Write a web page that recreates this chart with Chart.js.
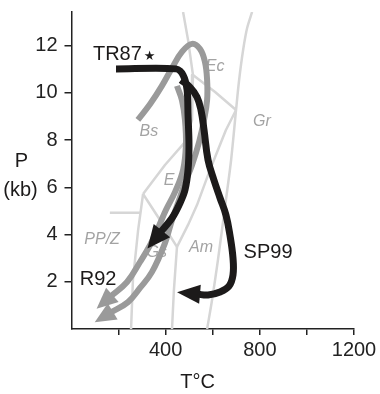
<!DOCTYPE html>
<html><head><meta charset="utf-8">
<script src="https://cdn.jsdelivr.net/npm/chart.js@4.4.0/dist/chart.umd.min.js"></script>
<style>html,body{margin:0;padding:0;background:#fff;}canvas{display:block;}</style>
</head><body>
<canvas id="c" width="380" height="394"></canvas>
<script>
// ---------- axis ticks ----------
const tTicks = [200, 400, 600, 800, 1000, 1200];
const tTickLabels = [400, 800, 1200];
const pTicks = [2, 4, 6, 8, 10, 12];

// ---------- facies boundaries (T in °C, P in kb) ----------
const grT = [767, 746, 729, 712, 699, 678, 656, 622, 597, 576];
const grP = [13.43, 12.75, 11.82, 10.55, 9.28, 7.16, 5.47, 2.92, 1.23, 0];
const bsT = [474, 495, 516, 512, 482, 397, 304];
const bsP = [13.43, 12.25, 10.76, 8.86, 7.92, 6.95, 5.72];
const ecT = [516, 610, 699];
const ecP = [10.76, 10.04, 9.28];
const amT = [699, 656, 588, 533, 495, 448];
const amP = [9.28, 8.43, 6.74, 5.25, 4.41, 3.48];
const amLowT = [448, 435, 427];
const amLowP = [3.48, 1.65, 0];
const ppT = [304, 283, 261, 253];
const ppP = [5.72, 4.19, 2.08, 0];
const gsT = [304, 376, 448];
const gsP = [5.72, 4.62, 3.48];
const zT = [163, 292];
const zP = [4.92, 4.92];

// ---------- P-T paths ----------
const r92aT = [282, 334, 384, 427, 469, 512, 546, 567, 576, 576, 563, 542, 512, 482, 457, 427, 397, 342, 291, 240, 164];
const r92aP = [8.86, 9.53, 10.30, 11.06, 11.74, 12.08, 11.86, 11.31, 10.55, 9.70, 8.86, 7.92, 6.95, 6.19, 5.47, 4.62, 3.64, 2.42, 1.74, 1.14, 0.68];
const r92bT = [448, 469, 482, 486, 474, 440, 401, 368, 334, 291, 236, 164];
const r92bP = [10.30, 9.70, 8.86, 7.80, 6.74, 5.81, 5.04, 4.28, 3.56, 2.84, 1.99, 1.36];
const tr87T = [189, 444, 474, 491, 495, 499, 495, 482, 461, 427, 376];
const tr87P = [11.02, 11.02, 10.76, 10.13, 9.07, 7.80, 6.74, 5.89, 5.34, 4.70, 4.07];
const sp99T = [465, 503, 533, 550, 563, 580, 605, 631, 656, 673, 686, 686, 669, 631, 580, 533];
const sp99P = [10.55, 10.25, 9.83, 9.28, 8.43, 7.16, 6.31, 5.55, 4.83, 3.98, 3.01, 2.29, 1.82, 1.57, 1.44, 1.48];

// ---------- labels ----------
const faciesNames = ['Ec', 'Gr', 'Bs', 'E', 'PP/Z', 'Am', 'Gs'];
const faciesT = [610, 809, 329, 414, 130, 550, 362];
const faciesP = [11.10, 8.77, 8.35, 6.27, 3.77, 3.43, 3.22];
const pathNames = ['TR87', 'SP99', 'R92'];
const pathLabelT = [195, 835, 113];
const pathLabelP = [11.63, 3.26, 2.08];

const FONT = '"Liberation Sans", Arial, Helvetica, sans-serif';
const pts = (T, P) => T.map((t, i) => ({x: t, y: P[i]}));

const FACIES = {borderColor: '#d6d6d6', borderWidth: 2.5, tension: 0, order: 3};
const GREY = {borderColor: '#9a9a9a', borderWidth: 6, tension: 0.4, order: 2, arrowLength: 18, arrowWidth: 19};
const BLACK = {borderColor: '#1c1a1a', borderWidth: 7, tension: 0.4, order: 1};

const datasets = [
  {data: pts(grT, grP), ...FACIES, tension: 0.3},
  {data: pts(bsT, bsP), ...FACIES},
  {data: pts(ecT, ecP), ...FACIES},
  {data: pts(amT, amP), ...FACIES},
  {data: pts(amLowT, amLowP), ...FACIES},
  {data: pts(ppT, ppP), ...FACIES},
  {data: pts(gsT, gsP), ...FACIES},
  {data: pts(zT, zP), ...FACIES},
  {data: pts(r92aT, r92aP), ...GREY},
  {data: pts(r92bT, r92bP), ...GREY},
  {data: pts(tr87T, tr87P), ...BLACK, tension: 0.3, arrowLength: 20, arrowWidth: 21},
  {data: pts(sp99T, sp99P), ...BLACK, arrowLength: 20, arrowWidth: 19},
].map(d => Object.assign({showLine: true, pointRadius: 0, pointHoverRadius: 0, borderJoinStyle: 'round'}, d));

const arrowPlugin = {
  id: 'arrows',
  afterDatasetDraw(chart, args) {
    const ds = chart.data.datasets[args.index];
    if (!ds.arrowLength) return;
    const el = args.meta.data;
    const a = el[el.length - 2], b = el[el.length - 1];
    const dx = b.x - a.x, dy = b.y - a.y, d = Math.hypot(dx, dy);
    const ux = dx / d, uy = dy / d;
    const L = ds.arrowLength, W = ds.arrowWidth;
    const bx = b.x - ux * 3, by = b.y - uy * 3;
    const ctx = chart.ctx;
    ctx.save();
    ctx.fillStyle = ds.borderColor;
    ctx.beginPath();
    ctx.moveTo(b.x + ux * L, b.y + uy * L);
    ctx.lineTo(bx - uy * W / 2, by + ux * W / 2);
    ctx.lineTo(bx + uy * W / 2, by - ux * W / 2);
    ctx.closePath();
    ctx.fill();
    ctx.restore();
  }
};

const textPlugin = {
  id: 'texts',
  beforeDatasetsDraw(chart) {
    const {ctx, scales: {x, y}} = chart;
    ctx.save();
    ctx.font = 'italic 16px ' + FONT;
    ctx.fillStyle = '#a3a3a3';
    ctx.textAlign = 'center';
    ctx.textBaseline = 'middle';
    faciesNames.forEach((n, i) => ctx.fillText(n, x.getPixelForValue(faciesT[i]), y.getPixelForValue(faciesP[i])));
    ctx.restore();
  },
  afterDatasetsDraw(chart) {
    const {ctx, chartArea, scales: {x, y}} = chart;
    ctx.save();
    ctx.fillStyle = '#1c1a1a';
    ctx.textAlign = 'center';
    ctx.textBaseline = 'middle';
    ctx.font = '20px ' + FONT;
    pathNames.forEach((n, i) => {
      const px = x.getPixelForValue(pathLabelT[i]), py = y.getPixelForValue(pathLabelP[i]);
      ctx.fillText(n, px, py);
      if (n === 'TR87') {
        const w = ctx.measureText(n).width;
        ctx.save();
        ctx.font = '13px "DejaVu Sans", sans-serif';
        ctx.textAlign = 'left';
        ctx.fillText('\u2605', px + w / 2 + 2, py + 2);
        ctx.restore();
      }
    });
    // axis titles
    ctx.font = '20px ' + FONT;
    ctx.fillText('T\u00B0C', chartArea.left + 126, chartArea.bottom + 53);
    ctx.fillText('P', chartArea.left - 50, y.getPixelForValue(7.1));
    ctx.fillText('(kb)', chartArea.left - 51, y.getPixelForValue(5.85));
    ctx.restore();
  }
};

const axisCommon = {
  grid: {display: true, drawOnChartArea: false, drawTicks: true, color: '#222', lineWidth: 1.5, tickColor: '#222', tickWidth: 1.5},
  border: {display: true, color: '#222', width: 1.5},
};

new Chart(document.getElementById('c'), {
  type: 'scatter',
  data: {datasets},
  options: {
    responsive: false,
    animation: false,
    events: [],
    layout: {padding: {left: 0, right: 26, top: 12, bottom: 0}},
    plugins: {legend: {display: false}, tooltip: {enabled: false}},
    scales: {
      x: {
        type: 'linear', min: 0, max: 1200,
        ...axisCommon,
        grid: {...axisCommon.grid, tickLength: 6},
        afterBuildTicks: s => { s.ticks = tTicks.map(v => ({value: v})); },
        ticks: {
          autoSkip: false, maxRotation: 0, padding: 3, color: '#222',
          font: {family: FONT, size: 20},
          callback: v => tTickLabels.includes(v) ? String(v) : ''
        },
        afterFit: s => { s.height = 65; s.paddingLeft = 0; s.paddingRight = 0; }
      },
      y: {
        type: 'linear', min: 0, max: 13.43,
        ...axisCommon,
        grid: {...axisCommon.grid, tickLength: 7},
        afterBuildTicks: s => { s.ticks = pTicks.map(v => ({value: v})); },
        ticks: {
          autoSkip: false, padding: 7, color: '#222',
          font: {family: FONT, size: 20}
        },
        afterFit: s => { s.width = 71.5; s.paddingTop = 0; s.paddingBottom = 0; }
      }
    }
  },
  plugins: [arrowPlugin, textPlugin]
});
</script>
</body></html>
